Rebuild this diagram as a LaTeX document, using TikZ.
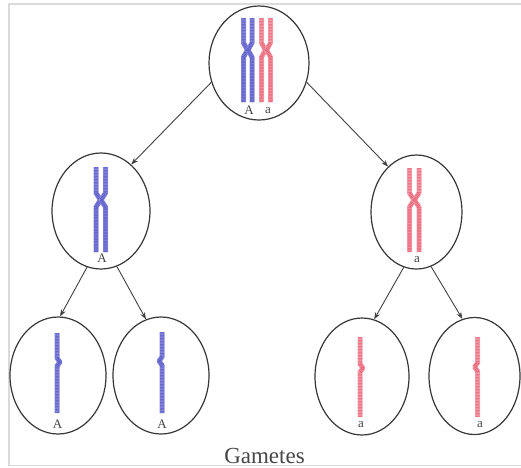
\documentclass[tikz,border=0pt]{standalone}
\usepackage{fontspec}
\setmainfont{Liberation Serif}
\usetikzlibrary{shapes.geometric,arrows.meta}
\definecolor{frameC}{RGB}{218,218,218}
\definecolor{cellC}{RGB}{55,55,55}
\definecolor{arrC}{RGB}{65,65,65}
\definecolor{blueL}{RGB}{135,135,220}
\definecolor{blueD}{RGB}{90,90,200}
\definecolor{redL}{RGB}{245,160,172}
\definecolor{redD}{RGB}{232,95,115}
\definecolor{txtC}{RGB}{70,70,70}
\tikzset{
  cell/.style={ellipse, draw=cellC, line width=1.2pt, inner sep=0pt},
  link/.style={draw=arrC, line width=0.9pt, -{Stealth[length=7pt,width=5pt]}},
  chromblue/.style={draw=blueL, line width=5pt, line join=round,
    postaction={draw=blueD, line width=3.6pt, dash pattern=on 0.7pt off 0.8pt}},
  chromred/.style={draw=redL, line width=5pt, line join=round,
    postaction={draw=redD, line width=3.6pt, dash pattern=on 0.7pt off 0.8pt}},
  allele/.style={text=txtC, font=\fontsize{13}{13}\selectfont, inner sep=0pt},
  caption/.style={text=txtC, font=\fontsize{23}{23}\selectfont, inner sep=0pt, anchor=base}
}
\begin{document}
\begin{tikzpicture}[x=1pt,y=-1pt]
  \useasboundingbox (0,0) rectangle (521,467);
  \clip (0,0) rectangle (521,467);
  % outer frame
  \draw[frameC, line width=1.5pt] (530,4) -- (9,4) -- (9,465.5) -- (530,465.5);

  % cells
  \node[cell, minimum width=100pt, minimum height=114pt] (top) at (259,63) {};
  \node[cell, minimum width=98pt, minimum height=116pt] (ml) at (101,211) {};
  \node[cell, minimum width=91pt, minimum height=114pt] (mr) at (416.5,212) {};
  \node[cell, minimum width=96pt, minimum height=117pt] (g1) at (58,375.5) {};
  \node[cell, minimum width=96pt, minimum height=117pt] (g2) at (161,375.5) {};
  \node[cell, minimum width=94pt, minimum height=117pt] (g3) at (362,376.5) {};
  \node[cell, minimum width=91pt, minimum height=117pt] (g4) at (474.5,376) {};

  % connectors
  \draw[link] (top.202) -- (ml.57);
  \draw[link] (top.338) -- (mr.122);
  \draw[link] (ml.256) -- (g1.88);
  \draw[link] (ml.286) -- (g2.105);
  \draw[link] (mr.257) -- (g3.78);
  \draw[link] (mr.285) -- (g4.102);

  % parent cell: homologous pair
  \draw[chromblue] (243.5,18) -- (243.5,43) -- (247.5,50) -- (243.5,57) -- (243.5,102);
  \draw[chromblue] (252,18) -- (252,43) -- (248,50) -- (252,57) -- (252,102);
  \draw[chromred] (261.5,18) -- (261.5,43) -- (265.5,50) -- (261.5,57) -- (261.5,102);
  \draw[chromred] (270.5,18) -- (270.5,43) -- (266.5,50) -- (270.5,57) -- (270.5,102);
  \node[allele] (lA0) at (249,110) {A};
  \node[allele] (la0) at (268,110.5) {a};

  % after first division
  \draw[chromblue] (96,167) -- (96,193) -- (100.5,200) -- (96,207) -- (96,252);
  \draw[chromblue] (105.5,167) -- (105.5,193) -- (101,200) -- (105.5,207) -- (105.5,252);
  \node[allele] (lA1) at (102,258.5) {A};
  \draw[chromred] (409.5,168) -- (409.5,193) -- (414,200) -- (409.5,207) -- (409.5,252);
  \draw[chromred] (419,168) -- (419,193) -- (414.5,200) -- (419,207) -- (419,252);
  \node[allele] (la1) at (417,259.5) {a};

  % gametes
  \draw[chromblue] (57,333) -- (57,358) -- (60,362) -- (57,366) -- (57,413);
  \node[allele] (lA2) at (57.5,424.5) {A};
  \draw[chromblue] (162,332) -- (162,357) -- (159,361) -- (162,365) -- (162,413);
  \node[allele] (lA3) at (162,424.5) {A};
  \draw[chromred] (360,337) -- (360,364) -- (363,368) -- (360,372) -- (360,417);
  \node[allele] (la2) at (361,424) {a};
  \draw[chromred] (477.5,337) -- (477.5,363) -- (474.5,367) -- (477.5,371) -- (477.5,417);
  \node[allele] (la3) at (480,424) {a};

  \node[caption] (gam) at (264.5,463) {Gametes};
\end{tikzpicture}
\end{document}
